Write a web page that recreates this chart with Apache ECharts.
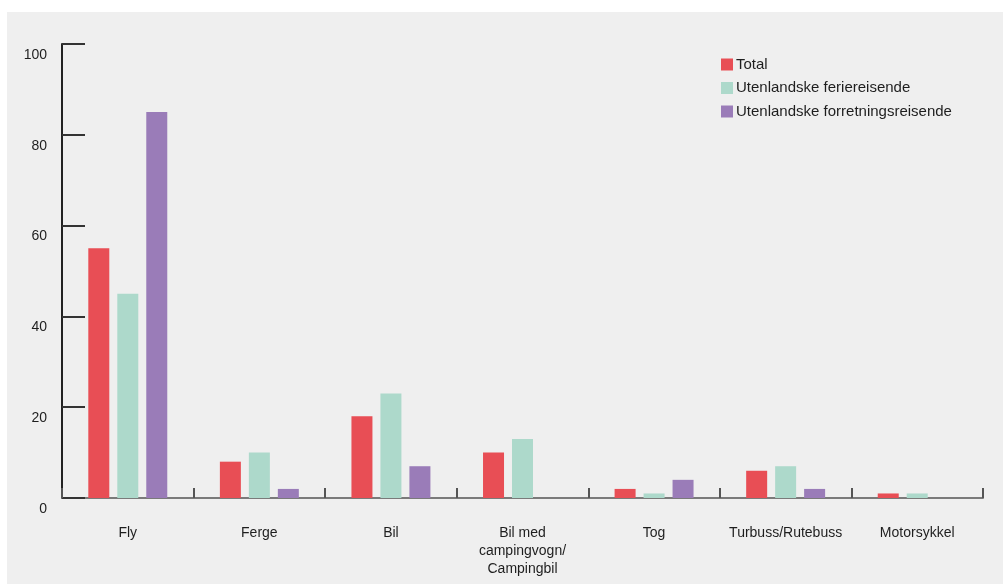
<!DOCTYPE html>
<html>
<head>
<meta charset="utf-8">
<script src="https://cdn.jsdelivr.net/npm/echarts@6/dist/echarts.min.js"></script>
<style>
  html, body { margin: 0; padding: 0; background: #ffffff; }
  #chart { width: 1003px; height: 584px; }
</style>
</head>
<body>
<div id="chart"></div>
<script>
// Travel mode shares (%) by traveller group
const categories = ['Fly', 'Ferge', 'Bil', 'Bil med\ncampingvogn/\nCampingbil', 'Tog', 'Turbuss/Rutebuss', 'Motorsykkel'];
const seriesNames = ['Total', 'Utenlandske feriereisende', 'Utenlandske forretningsreisende'];
const totalValues = [55, 8, 18, 10, 2, 6, 1];
const ferieValues = [45, 10, 23, 13, 1, 7, 1];
const forretningValues = [85, 2, 7, 0, 4, 2, 0];
const yTicks = [0, 20, 40, 60, 80, 100];

const colors = ['#e84e55', '#add9cb', '#9a7cb8'];
const FONT = '"Liberation Sans", Arial, sans-serif';

const chart = echarts.init(document.getElementById('chart'), null, { renderer: 'canvas' });

const valueSets = [totalValues, ferieValues, forretningValues];

chart.setOption({
  animation: false,
  backgroundColor: '#ffffff',
  color: colors,
  textStyle: { fontFamily: FONT },
  graphic: [{
    type: 'rect',
    z: -10,
    shape: { x: 7, y: 12, width: 1003, height: 584 },
    style: { fill: '#efefef' },
    silent: true
  }],
  legend: {
    orient: 'vertical',
    left: 716,
    top: 52,
    itemWidth: 12,
    itemHeight: 12,
    itemGap: 8.5,
    icon: 'rect',
    textStyle: { fontSize: 15, color: '#1e1e1e', fontFamily: FONT, padding: [0, 0, 0, -2] },
    data: seriesNames
  },
  grid: { left: 62, right: 20, top: 44, bottom: 86, containLabel: false },
  xAxis: {
    type: 'category',
    data: categories,
    axisLine: { lineStyle: { color: '#7a7a7a', width: 2 } },
    axisTick: { show: true, inside: true, length: 10, lineStyle: { color: '#555', width: 2 } },
    axisLabel: {
      margin: 26,
      fontSize: 14,
      color: '#1e1e1e',
      lineHeight: 18,
      interval: 0,
      fontFamily: FONT
    },
    splitLine: { show: false }
  },
  yAxis: {
    type: 'value',
    min: yTicks[0],
    max: yTicks[yTicks.length - 1],
    interval: 20,
    axisLine: { show: true, lineStyle: { color: '#222', width: 2 } },
    axisTick: { show: true, inside: true, length: 23, lineStyle: { color: '#333', width: 2 } },
    axisLabel: {
      margin: 15,
      fontSize: 14,
      color: '#1e1e1e',
      lineHeight: 22,
      verticalAlign: 'middle',
      // empty first line drops each number just below its tick
      formatter: function (v) { return '\n' + v; },
      fontFamily: FONT
    },
    splitLine: { show: false }
  },
  series: seriesNames.map((name, i) => ({
    name: name,
    type: 'bar',
    data: valueSets[i],
    barWidth: 21,
    barGap: '38%',
    itemStyle: { color: colors[i] }
  }))
});
</script>
</body>
</html>
